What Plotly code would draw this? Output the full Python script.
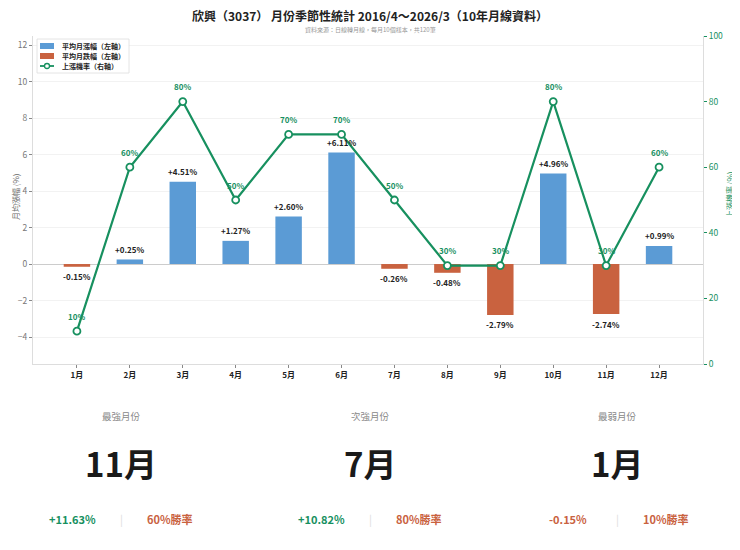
import plotly.graph_objects as go

# 欣興 (3037) monthly seasonality, 2016/4 - 2026/3
months = ["1月", "2月", "3月", "4月", "5月", "6月", "7月", "8月", "9月", "10月", "11月", "12月"]
avg_return = [-0.15, 0.25, 4.51, 1.27, 2.60, 6.11, -0.26, -0.48, -2.79, 4.96, -2.74, 0.99]
up_rate = [10, 60, 80, 50, 70, 70, 50, 30, 30, 80, 30, 60]

card_titles = ["最強月份", "次強月份", "最弱月份"]
card_months = ["11月", "7月", "1月"]
card_returns = ["+11.63%", "+10.82%", "-0.15%"]
card_rates = ["60%勝率", "80%勝率", "10%勝率"]

legend_names = ["平均月漲幅（左軸）", "平均月跌幅（左軸）", "上漲機率（右軸）"]

BLUE = "#5B9BD5"
RED = "#C9623F"
GREEN = "#17905F"
FONT = "Noto Sans CJK TC"

W, H = 740, 550
OFF = 8  # page body margin
# plot area in screen pixels
L, R, T, B = 33, 703, 36, 364


def px(x):
    return (x - L) / (R - L)


def py(y):
    return (B - y) / (B - T)


def note(x, y, text, size, color, bold=False, angle=0):
    return dict(x=px(x), y=py(y), xref="paper", yref="paper", showarrow=False,
                xanchor="center", yanchor="middle", text=text, textangle=angle,
                font=dict(size=size, color=color, family=FONT,
                          weight="bold" if bold else "normal"))


ups = [v if v >= 0 else None for v in avg_return]
downs = [v if v < 0 else None for v in avg_return]

fig = go.Figure()
fig.add_trace(go.Bar(x=months, y=ups, name=legend_names[0], marker_color=BLUE,
                     width=0.5, marker_line_width=0))
fig.add_trace(go.Bar(x=months, y=downs, name=legend_names[1], marker_color=RED,
                     width=0.5, marker_line_width=0))
fig.add_trace(go.Scatter(x=months, y=up_rate, name=legend_names[2], yaxis="y2",
                         mode="lines+markers", line=dict(color=GREEN, width=2.2),
                         marker=dict(symbol="circle", size=7, color="white",
                                     line=dict(color=GREEN, width=1.8))))

annotations = []
for m, v in zip(months, avg_return):
    annotations.append(dict(x=m, y=v, xref="x", yref="y", text=f"{v:+.2f}%",
                            showarrow=False, yshift=10 if v >= 0 else -10,
                            font=dict(size=8, color="#222", family=FONT, weight="bold")))
for m, r in zip(months, up_rate):
    annotations.append(dict(x=m, y=r, xref="x", yref="y2", text=f"{r}%",
                            showarrow=False, yshift=15,
                            font=dict(size=8, color=GREEN, family=FONT, weight="bold")))

annotations.append(note(370, 16, "欣興（3037） 月份季節性統計 2016/4～2026/3（10年月線資料）",
                        12, "#222", bold=True))
annotations.append(note(370, 29, "資料來源：日線轉月線，每月10個樣本，共120筆", 6, "#999"))
annotations.append(note(15, 197, "月均漲幅 (%)", 8, "#666", angle=-90))
annotations.append(note(729, 195, "上漲機率 (%)", 8, GREEN, angle=-90))

centers = [121, 370, 617]
for cx, t, m, ret, rate in zip(centers, card_titles, card_months, card_returns, card_rates):
    annotations.append(note(cx, 416, t, 9.5, "#888"))
    annotations.append(note(cx, 463, m, 33, "#1a1a1a", bold=True))
    annotations.append(note(cx - 49, 519, ret, 11, GREEN if ret.startswith("+") else RED, bold=True))
    annotations.append(note(cx, 519, "|", 11, "#ddd"))
    annotations.append(note(cx + 49, 519, rate, 11, RED, bold=True))

# hand-drawn compact legend
shapes = [dict(type="rect", xref="paper", yref="paper", x0=px(37), x1=px(129), y0=py(73), y1=py(39),
               line=dict(color="#ddd", width=0.8), fillcolor="rgba(255,255,255,0.9)", layer="above")]
rows = [46, 56, 66]
for i, (name, ry) in enumerate(zip(legend_names, rows)):
    if i < 2:
        shapes.append(dict(type="rect", xref="paper", yref="paper", x0=px(40), x1=px(54),
                           y0=py(ry + 3), y1=py(ry - 3), line=dict(width=0),
                           fillcolor=BLUE if i == 0 else RED, layer="above"))
    else:
        shapes.append(dict(type="line", xref="paper", yref="paper", x0=px(40), x1=px(54),
                           y0=py(ry), y1=py(ry), line=dict(color=GREEN, width=1.8), layer="above"))
        shapes.append(dict(type="circle", xref="paper", yref="paper", x0=px(44.5), x1=px(49.5),
                           y0=py(ry + 2.5), y1=py(ry - 2.5), line=dict(color=GREEN, width=1.3),
                           fillcolor="white", layer="above"))
    annotations.append(dict(x=px(60), y=py(ry), xref="paper", yref="paper", showarrow=False,
                            xanchor="left", yanchor="middle", text=name,
                            font=dict(size=7, color="#222", family=FONT, weight="bold")))

fig.update_layout(
    width=W, height=H,
    margin=dict(l=L - OFF, r=W - R + OFF, t=T - OFF, b=H - B + OFF),
    paper_bgcolor="white", plot_bgcolor="white",
    barmode="overlay",
    font=dict(family=FONT, size=8, color="#666"),
    showlegend=False,
    xaxis=dict(type="category", range=[-0.83, 11.83], showgrid=False, automargin=False,
               showline=True, linecolor="#ddd", linewidth=1,
               ticks="outside", ticklen=3, tickcolor="#888",
               tickfont=dict(size=8, color="#222", family=FONT, weight="bold")),
    yaxis=dict(range=[-5.48, 12.5], tickvals=[-4, -2, 0, 2, 4, 6, 8, 10, 12], automargin=False,
               showgrid=True, gridcolor="#f2f2f2", gridwidth=1,
               zeroline=True, zerolinecolor="#cccccc", zerolinewidth=1,
               showline=True, linecolor="#ddd", linewidth=1,
               ticks="outside", ticklen=3, tickcolor="#888",
               tickfont=dict(size=8.5, color="#777")),
    yaxis2=dict(range=[0, 100], overlaying="y", side="right", showgrid=False, automargin=False,
                zeroline=False, showline=True, linecolor="#ddd", linewidth=1,
                tickvals=[0, 20, 40, 60, 80, 100],
                ticks="outside", ticklen=3, tickcolor=GREEN,
                tickfont=dict(size=8.5, color=GREEN)),
    annotations=annotations,
    shapes=shapes,
)

fig.write_html("out.html")
